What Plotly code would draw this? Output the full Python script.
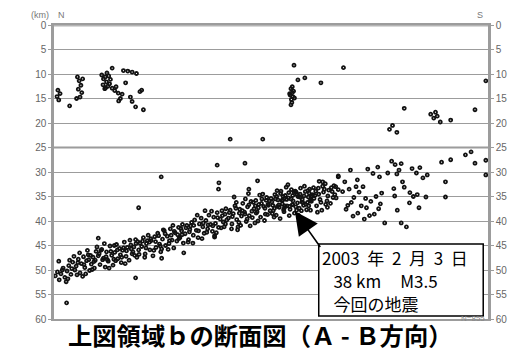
import plotly.graph_objects as go

# Hypocentres projected on the A-B cross-section.
# x: position along the profile (0 = N end, 100 = S end), depth in km.

# shallow events near the northern end
north_x = [0.9, 1.1, 0.7, 1.4, 3.6, 5.4, 5.8, 6.2, 5.6, 6.4, 6.0, 5.2, 6.6,
           11.0, 11.4, 11.8, 12.1, 11.3, 12.4, 11.7, 12.8, 12.2, 13.0, 12.6, 11.9, 13.4, 13.4, 14.0,
           16.0, 17.0, 18.0, 19.0, 16.5, 14.3, 14.8, 15.3, 15.7, 17.6, 18.0, 18.8, 20.2, 20.6, 19.8, 14.9]
north_depth = [13.3, 15.3, 14.6, 14.0, 16.5, 10.6, 11.4, 12.3, 13.1, 13.8, 14.7, 15.0, 11.0,
               10.2, 11.0, 10.6, 11.6, 12.2, 12.5, 13.0, 12.0, 9.8, 11.1, 10.4, 12.8, 12.9, 8.8, 13.4,
               9.3, 9.4, 9.6, 9.9, 11.8, 12.6, 13.9, 15.0, 14.1, 14.7, 15.6, 16.7, 13.3, 17.3, 13.6, 15.5]

# shallow swarm in the middle of the profile
mid_x = [54.6, 54.9, 54.4, 55.0, 54.7, 54.3, 55.2, 54.8, 54.6, 55.4, 54.9, 55.3, 56.2, 57.8, 61.5, 66.7]
mid_depth = [13.0, 13.8, 14.3, 14.6, 15.2, 14.0, 13.5, 15.8, 16.3, 14.9, 12.6, 8.2, 11.2, 10.8, 11.8, 8.7]

# inclined seismic zone (dipping from S to N)
band_x = [0.3, 0.8, 1.2, 1.6, 2.1, 2.5, 3.0, 3.4, 3.9, 4.3, 4.8, 5.1, 5.6, 6.0, 6.3, 6.8, 7.1, 7.5, 7.9, 8.2,
          8.6, 9.0, 9.3, 9.7, 4.6, 5.9, 7.3, 8.8, 9.5, 6.6, 3.6, 2.8, 8.0, 9.9, 5.3, 7.7,
          10.2, 10.6, 11.0, 11.4, 11.8, 12.1, 12.5, 12.9, 13.3, 13.6, 14.0, 14.4, 14.7, 15.1, 15.5, 15.8,
          16.2, 16.6, 16.9, 17.3, 17.7, 18.0, 18.4, 18.8, 19.1, 19.5, 19.8, 10.8, 11.6, 12.7, 13.9, 15.3,
          16.4, 17.5, 18.6, 19.3, 14.2, 12.3, 16.0, 18.2,
          20.2, 20.6, 21.0, 21.3, 21.7, 22.1, 22.4, 22.8, 23.2, 23.5, 23.9, 24.3, 24.6, 25.0, 25.4, 25.7,
          26.1, 26.5, 26.8, 27.2, 27.6, 27.9, 28.3, 28.7, 29.0, 29.4, 29.8, 20.9, 22.0, 23.0, 24.1, 25.2,
          26.3, 27.4, 28.5, 29.6, 21.5, 24.8, 27.0, 29.2,
          30.2, 30.6, 31.0, 31.3, 31.7, 32.1, 32.4, 32.8, 33.2, 33.5, 33.9, 34.3, 34.6, 35.0, 35.4, 35.7,
          36.1, 36.5, 36.8, 37.2, 37.6, 37.9, 38.3, 38.7, 39.0, 39.4, 39.8, 30.9, 32.0, 33.0, 34.1, 35.2,
          36.3, 37.4, 38.5, 39.6, 31.5, 34.8, 37.0, 39.2,
          40.2, 40.6, 41.0, 41.3, 41.7, 42.1, 42.4, 42.8, 43.2, 43.5, 43.9, 44.3, 44.6, 45.0, 45.4, 45.7,
          46.1, 46.5, 46.8, 47.2, 47.6, 47.9, 48.3, 48.7, 49.0, 49.4, 49.8, 40.9, 42.0, 43.0, 44.1, 45.2,
          46.3, 47.4, 48.5, 49.6, 41.5, 44.8, 47.0, 49.2, 42.7, 45.9, 48.1,
          50.2, 50.5, 50.9, 51.2, 51.6, 51.9, 52.3, 52.6, 53.0, 53.3, 53.7, 54.0, 54.4, 54.7, 55.1, 55.4,
          55.8, 56.1, 56.5, 56.8, 57.2, 57.5, 57.9, 58.2, 58.6, 58.9, 59.3, 59.6, 50.7, 51.4, 52.1, 52.8,
          53.5, 54.2, 54.9, 55.6, 56.3, 57.0, 57.7, 58.4, 59.1, 59.8, 51.0, 53.9, 56.6, 58.8, 55.0, 52.5,
          60.1, 60.5, 60.9, 61.3, 61.7, 62.1, 62.5, 62.9, 63.3, 63.7, 64.1, 64.5, 65.0, 65.5, 60.7, 61.9,
          63.0, 64.3, 62.6, 61.1,
          1.9, 3.2, 4.1, 5.5, 6.9, 8.4, 9.2,
          10.4, 11.2, 12.0, 13.1, 13.8, 14.6, 15.6, 16.7, 17.8, 18.9, 19.6,
          20.4, 21.2, 22.3, 23.4, 24.5, 25.6, 26.6, 27.7, 28.8, 29.5,
          30.4, 31.2, 32.2, 33.3, 34.4, 35.5, 36.6, 37.7, 38.8, 39.5,
          40.4, 41.1, 41.9, 42.6, 43.4, 44.0, 44.9, 45.6, 46.4, 47.1, 47.8, 48.6, 49.3,
          50.0, 50.4, 50.8, 51.3, 51.8, 52.2, 52.7, 53.2, 53.6, 54.1, 54.6, 55.0, 55.3, 55.7, 56.2, 56.7,
          57.1, 57.6, 58.0, 58.5, 59.0, 59.4, 59.9,
          60.3, 61.0, 61.5, 62.3, 63.1, 63.9, 64.7,
          50.3, 51.5, 52.9, 54.3, 55.9, 57.3, 58.7, 53.1, 56.0, 59.2, 44.5, 46.6, 48.9, 42.3]
band_depth = [51.2, 50.4, 52.0, 50.8, 49.6, 51.5, 50.2, 49.1, 50.9, 48.4, 50.0, 49.2, 47.8, 50.6, 48.7, 47.3,
              49.5, 48.1, 46.9, 50.1, 48.8, 47.4, 49.6, 46.2, 47.2, 46.5, 50.8, 49.9, 48.0, 51.3, 48.0, 52.4,
              47.9, 45.3, 51.0, 46.0,
              47.1, 48.9, 45.8, 47.6, 49.4, 46.3, 48.2, 45.1, 47.0, 49.0, 46.4, 44.8, 47.7, 45.6, 48.5, 46.0,
              44.3, 47.2, 45.4, 48.0, 44.9, 46.7, 45.3, 43.8, 47.4, 45.9, 44.5, 46.0, 44.6, 49.6, 45.0, 46.9,
              48.7, 43.9, 47.0, 44.2, 48.1, 47.9, 45.5, 46.3,
              45.2, 43.4, 46.7, 44.6, 42.9, 45.9, 44.0, 47.1, 43.2, 45.4, 42.5, 44.7, 46.3, 43.7, 42.0, 45.0,
              43.1, 44.6, 41.6, 43.9, 45.5, 42.4, 44.1, 41.3, 43.4, 42.0, 44.5, 47.4, 44.3, 46.0, 43.0, 41.8,
              45.8, 40.9, 42.8, 40.7, 44.0, 45.7, 42.9, 41.5,
              42.6, 40.9, 43.8, 41.7, 40.3, 42.9, 39.8, 41.9, 43.4, 40.6, 39.4, 41.2, 42.5, 39.9, 41.6, 38.8,
              40.7, 42.1, 39.2, 40.5, 38.3, 41.3, 39.6, 37.9, 40.2, 38.6, 39.8, 44.3, 44.5, 38.8, 43.6, 42.3,
              38.0, 42.4, 41.4, 37.5, 41.0, 37.9, 43.0, 41.2,
              39.4, 37.8, 40.6, 38.5, 36.9, 39.7, 41.2, 37.6, 39.0, 36.4, 38.2, 40.1, 37.1, 38.9, 36.0, 39.3,
              37.5, 35.8, 38.1, 36.6, 39.2, 35.5, 37.0, 38.6, 35.2, 36.8, 37.9, 41.6, 36.2, 40.9, 35.5, 41.0,
              40.4, 34.7, 39.9, 35.9, 35.1, 34.4, 40.0, 38.7, 38.4, 36.2, 34.5,
              36.1, 37.9, 34.6, 38.8, 35.7, 37.2, 33.9, 36.5, 38.1, 34.8, 36.9, 35.3, 37.6, 33.6, 35.9, 38.4,
              34.1, 36.3, 37.4, 33.3, 35.6, 36.8, 34.0, 37.7, 35.1, 33.5, 36.0, 34.6, 39.2, 33.8, 39.5, 35.0,
              33.1, 38.9, 36.7, 33.9, 38.8, 37.9, 32.9, 36.2, 37.8, 33.2, 35.5, 32.6, 35.1, 34.3, 34.8, 35.8,
              34.8, 36.9, 33.3, 35.6, 37.8, 34.1, 32.4, 35.9, 33.7, 36.4, 34.0, 32.8, 35.3, 33.6, 38.2, 32.9,
              37.2, 35.2, 36.6, 31.9,
              50.0, 51.8, 49.7, 48.5, 48.9, 47.0, 48.3,
              46.7, 47.9, 47.3, 46.2, 47.8, 45.9, 47.4, 46.1, 45.7, 44.6, 46.8,
              44.1, 45.5, 43.6, 44.2, 45.1, 42.6, 44.0, 42.1, 43.6, 42.8,
              41.4, 42.2, 40.9, 42.0, 40.4, 40.8, 41.0, 39.3, 38.9, 40.6,
              38.3, 39.1, 37.4, 40.3, 37.9, 38.6, 36.7, 38.0, 36.9, 37.3, 36.4, 37.4, 36.6,
              35.4, 36.8, 37.4, 35.0, 36.7, 34.4, 35.7, 36.9, 35.6, 34.2, 35.5, 36.6, 34.0, 37.1, 35.0, 34.5,
              36.1, 34.9, 36.6, 33.8, 35.9, 34.9, 35.4,
              33.9, 34.5, 36.2, 33.5, 34.9, 33.2, 34.6,
              38.5, 37.0, 37.7, 37.0, 37.8, 36.2, 36.9, 37.3, 34.6, 35.7, 39.6, 38.4, 35.8, 41.8]

# scattered events towards the southern end
south_x = [67.0, 68.3, 65.5, 68.0, 69.1, 67.7, 70.3, 71.2, 72.3, 73.5, 74.6, 75.0, 73.0, 74.2, 75.2, 72.0,
           70.0, 68.9, 71.5, 73.8, 75.5, 76.9, 77.8, 78.6, 79.5, 80.0, 79.0, 78.3, 80.3, 80.7, 78.5, 79.1,
           80.0, 81.2, 76.2, 81.9, 82.0, 82.8, 83.7, 84.1, 85.7, 82.5, 83.5, 84.3, 86.0, 85.0, 89.3, 91.4,
           94.8, 96.1, 97.0, 99.5, 99.5, 90.2, 90.2, 77.3, 78.0, 79.0, 86.8, 87.5, 88.3, 89.0, 87.9, 91.4,
           80.7, 97.0, 99.5, 66.5, 67.3, 68.5, 69.6, 70.8, 71.8, 72.7, 74.8, 69.9]
south_depth = [32.0, 29.6, 31.0, 33.5, 35.2, 36.8, 34.1, 33.0, 29.4, 30.3, 29.0, 31.0, 36.0, 35.0, 36.5, 37.3,
               38.4, 39.0, 39.6, 38.6, 34.3, 30.2, 27.8, 28.5, 29.6, 28.3, 30.4, 33.4, 32.0, 33.1, 34.9, 37.8,
               40.4, 41.2, 40.4, 36.3, 34.2, 35.0, 34.6, 37.3, 35.1, 29.3, 30.2, 29.1, 30.6, 31.2, 28.0, 27.5,
               26.5, 25.9, 28.2, 27.6, 30.6, 32.0, 35.1, 21.3, 20.5, 21.9, 18.2, 19.0, 18.6, 19.8, 17.8, 19.4,
               17.0, 17.3, 11.4, 34.0, 37.6, 36.2, 33.0, 36.9, 35.4, 38.9, 37.5, 31.6]

# isolated events
other_x = [40.6, 48.1, 37.6, 44.0, 38.0, 37.9, 46.9, 44.9, 24.7, 19.5, 10.2, 1.1, 2.9, 18.8, 24.8, 29.9,
           37.0, 61.9, 64.9, 65.5]
other_depth = [23.3, 23.3, 28.6, 28.2, 32.2, 33.5, 31.8, 33.5, 31.0, 37.3, 43.5, 48.2, 56.7, 51.6, 47.6, 46.5,
               43.3, 32.0, 33.0, 30.8]

for xs, ds in [(north_x, north_depth), (mid_x, mid_depth), (band_x, band_depth),
               (south_x, south_depth), (other_x, other_depth)]:
    assert len(xs) == len(ds), (len(xs), len(ds))

# the 2003-02-03 event
event_x = 55.5
event_depth = 38
NB = "\u00a0"
event_lines = [f"2003{NB*2}年{NB*2}2{NB*2}月{NB*2}3{NB*2}日",
               f"{NB*3}38{NB}km{NB*5}M3.5",
               f"{NB*3}今回の地震"]

depth_ticks = list(range(0, 61, 5))
n_events = 855

all_x = north_x + mid_x + band_x + south_x + other_x
all_depth = north_depth + mid_depth + band_depth + south_depth + other_depth

GRID = "#9c9c9c"
TICKFONT = dict(family="Liberation Sans Narrow, Liberation Sans, sans-serif", size=10, color="#666666")
JP = "Liberation Sans Narrow, Noto Sans CJK JP, sans-serif"

fig = go.Figure()
fig.add_trace(go.Scatter(
    x=all_x, y=all_depth, mode="markers", showlegend=False, hoverinfo="skip",
    marker=dict(symbol="circle-open", size=3, color="#111111", line=dict(width=1.8, color="#111111")),
))
# invisible trace to activate the right-hand depth axis
fig.add_trace(go.Scatter(x=[0, 100], y=[0, 60], yaxis="y2", mode="markers",
                         marker=dict(opacity=0), showlegend=False, hoverinfo="skip"))

fig.update_layout(
    width=519, height=353,
    margin=dict(l=54, r=24, t=25, b=34),
    paper_bgcolor="white", plot_bgcolor="white",
    xaxis=dict(range=[0, 100], showgrid=False, zeroline=False, showticklabels=False, ticks="",
               showline=True, mirror=True, linecolor=GRID, linewidth=2),
    yaxis=dict(range=[60, 0], tickvals=depth_ticks, ticktext=[str(v) for v in depth_ticks],
               showgrid=True, gridcolor=GRID, gridwidth=1.2, zeroline=False,
               showline=True, linecolor=GRID, linewidth=2.5, ticks="outside", ticklen=3,
               tickcolor=GRID, tickfont=TICKFONT),
    yaxis2=dict(range=[60, 0], tickvals=depth_ticks, ticktext=[str(v) for v in depth_ticks],
                overlaying="y", side="right", showgrid=False, zeroline=False,
                showline=True, linecolor=GRID, linewidth=2.5, ticks="outside", ticklen=3,
                tickcolor=GRID, tickfont=TICKFONT),
)

# heavier reference lines at the surface and at 25 km
fig.add_shape(type="line", xref="paper", x0=0, x1=1, yref="y", y0=0, y1=0,
              line=dict(color="#b4b4b4", width=3), layer="below")
fig.add_shape(type="line", xref="paper", x0=0, x1=1, yref="y", y0=25, y1=25,
              line=dict(color="#cccccc", width=3), layer="below")

# legend box for the event, one annotation per line
fig.add_shape(type="rect", xref="paper", yref="paper", x0=0.610, x1=0.989, y0=0.010, y1=0.255,
              line=dict(color="black", width=1.5), fillcolor="white", layer="above")
for text, yp in zip(event_lines, [0.2075, 0.131, 0.0544]):
    fig.add_annotation(text=text, xref="paper", yref="paper", x=0.614, y=yp,
                       xanchor="left", yanchor="middle", align="left", showarrow=False,
                       font=dict(family=JP, size=17, color="black"))

# arrow pointing at the event hypocentre
fig.add_annotation(x=event_x, y=event_depth, xref="x", yref="y",
                   ax=61.6, ay=45.6, axref="x", ayref="y", text="", showarrow=True,
                   arrowhead=2, arrowsize=2.9, arrowwidth=1.6, arrowcolor="black", standoff=0)

# axis captions
small = dict(family="Liberation Sans, sans-serif", size=9, color="#777777")
fig.add_annotation(text="(km)", xref="paper", yref="paper", x=-0.058, y=1.058, showarrow=False, font=small)
fig.add_annotation(text="N", xref="paper", yref="paper", x=0.004, y=1.058, showarrow=False, font=small)
fig.add_annotation(text="S", xref="paper", yref="paper", x=0.993, y=1.058, showarrow=False, font=small)
fig.add_annotation(text=f"N={n_events}", xref="paper", yref="paper", x=0.998, y=-0.02, xanchor="right",
                   showarrow=False, font=dict(family="Liberation Sans, sans-serif", size=8, color="#888888"))

# title
fig.add_annotation(text="<b>上図領域ｂの断面図（Ａ - Ｂ方向）</b>", xref="paper", yref="paper",
                   x=0.474, y=-0.052, yanchor="middle", showarrow=False,
                   font=dict(family="Noto Sans CJK JP, sans-serif", size=24.3, color="black"))

fig.write_html("out.html")
